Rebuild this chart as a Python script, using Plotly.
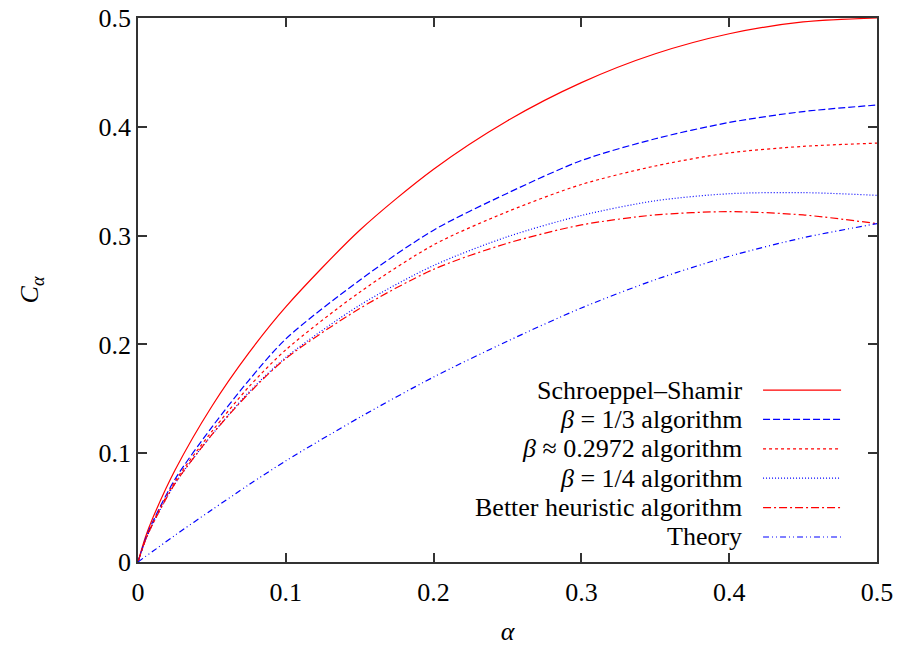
import plotly.graph_objects as go

# Datos
alpha = [0, 0.005, 0.01, 0.025, 0.05, 0.075, 0.1, 0.15, 0.2, 0.25, 0.3, 0.35, 0.4, 0.45, 0.5]

schroeppel_shamir = [0, 0.0227, 0.0404, 0.0843, 0.1432, 0.1922, 0.2345, 0.3049, 0.3610, 0.4056,
                     0.4406, 0.4671, 0.4855, 0.4964, 0.5]
beta_1_3 = [0, 0.021, 0.037, 0.076, 0.124, 0.167, 0.205, 0.259, 0.305, 0.339,
            0.369, 0.389, 0.404, 0.414, 0.420]
beta_02972 = [0, 0.020, 0.036, 0.074, 0.120, 0.161, 0.195, 0.248, 0.2915, 0.322,
              0.347, 0.364, 0.376, 0.382, 0.385]
beta_1_4 = [0, 0.020, 0.035, 0.072, 0.117, 0.156, 0.188, 0.236, 0.2725, 0.299,
            0.3185, 0.332, 0.3385, 0.3395, 0.337]
better_heuristic = [0, 0.020, 0.035, 0.072, 0.117, 0.155, 0.187, 0.233, 0.269, 0.293,
                    0.3098, 0.319, 0.322, 0.319, 0.311]
theory = [0, 0.005, 0.0098, 0.0245, 0.048, 0.071, 0.093, 0.133, 0.170, 0.203,
          0.2335, 0.2595, 0.281, 0.298, 0.311]

series = [
    ('Schroeppel–Shamir', schroeppel_shamir, '#ff0000', 'solid'),
    ('<i>β</i> = 1/3 algorithm', beta_1_3, '#0000ff', '7px,3px'),
    ('<i>β</i> ≈ 0.2972 algorithm', beta_02972, '#ff0000', '3px,3px'),
    ('<i>β</i> = 1/4 algorithm', beta_1_4, '#0000ff', '1px,2px'),
    ('Better heuristic algorithm', better_heuristic, '#ff0000', '8px,3px,2px,3px'),
    ('Theory', theory, '#0000ff', '6px,3px,1px,3px,1px,3px'),
]

FONT = 'Liberation Serif'

fig = go.Figure()
for name, vals, color, dash in series:
    fig.add_trace(go.Scatter(
        x=alpha, y=vals, name=name, mode='lines',
        line=dict(color=color, width=1.2, dash=dash, shape='spline', smoothing=0.8),
        showlegend=False,
    ))

# Leyenda a mano: texto alineado a la derecha y muestra de línea a su derecha
shapes = []
annotations = []
y0 = 0.158   # fila superior (unidades de datos)
dy = 0.027
for i, (name, vals, color, dash) in enumerate(series):
    y = y0 - i * dy
    annotations.append(dict(
        x=0.410, y=y, xref='x', yref='y', text=name, showarrow=False,
        xanchor='right', yanchor='middle', font=dict(size=26, color='black', family=FONT),
    ))
    shapes.append(dict(
        type='line', x0=0.4229, x1=0.4757, y0=y, y1=y, xref='x', yref='y',
        line=dict(color=color, width=1.2, dash=dash),
    ))

axis_common = dict(
    range=[0, 0.5], showline=True, mirror='allticks', linecolor='#333333',
    linewidth=1.5, ticks='inside', ticklen=9, tickwidth=1.5, tickcolor='#333333',
    showgrid=False, zeroline=False, automargin=False,
    tickfont=dict(size=26, family=FONT, color='black'),
    tickvals=[0, 0.1, 0.2, 0.3, 0.4, 0.5],
    ticktext=['0', '0.1', '0.2', '0.3', '0.4', '0.5'],
)

fig.update_layout(
    width=903, height=646,
    margin=dict(l=138, r=26, t=18, b=84),
    paper_bgcolor='white', plot_bgcolor='white',
    font=dict(family=FONT, size=26, color='black'),
    xaxis=dict(axis_common, ticklabelstandoff=6,
               title=dict(text='<i>α</i>', standoff=22, font=dict(size=26, family=FONT))),
    yaxis=dict(axis_common, ticklabelstandoff=0,
               title=dict(text='<i>C</i><sub><i>α</i></sub>', standoff=52,
                          font=dict(size=26, family=FONT))),
    shapes=shapes,
    annotations=annotations,
)

# quitar el margen por defecto del <body> para que la figura ocupe toda la ventana
fig.write_html('out.html', config={'displayModeBar': False},
               post_script="document.body.style.margin='0';")
